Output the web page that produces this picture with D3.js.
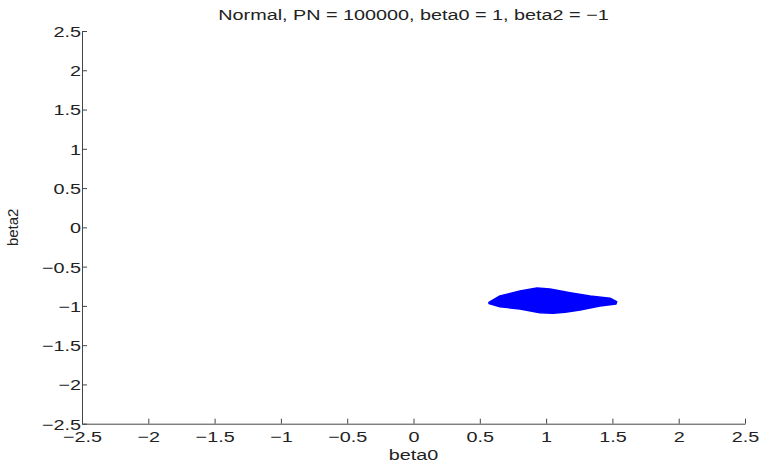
<!DOCTYPE html>
<html>
<head>
<meta charset="utf-8">
<script src="https://cdn.jsdelivr.net/npm/d3@7"></script>
<style>
  html, body { margin: 0; padding: 0; background: #fff; }
  svg { display: block; font-family: "Liberation Sans", Arial, Helvetica, sans-serif; }
</style>
</head>
<body>
<svg id="chart" width="760" height="466"></svg>
<script>
// Axis ticks
const xTicks = [-2.5, -2, -1.5, -1, -0.5, 0, 0.5, 1, 1.5, 2, 2.5];
const yTicks = [-2.5, -2, -1.5, -1, -0.5, 0, 0.5, 1, 1.5, 2, 2.5];

// Outline of the sampled (beta0, beta2) point cloud, traced clockwise
const cloudBeta0 = [0.569, 0.652, 0.803, 0.931, 1.029, 1.180, 1.331, 1.482, 1.532,
                    1.527, 1.406, 1.256, 1.143, 1.052, 0.954, 0.803, 0.652, 0.569];
const cloudBeta2 = [-0.954, -0.874, -0.810, -0.772, -0.785, -0.832, -0.874, -0.903, -0.947,
                    -0.976, -1.001, -1.052, -1.082, -1.094, -1.087, -1.040, -1.010, -0.970];

const titleText = "Normal, PN = 100000, beta0 = 1, beta2 = \u22121";

const svg = d3.select("#chart");
const margin = { left: 82, right: 15, top: 31, bottom: 42.3 };
const W = 760, H = 466;
const FS = 15;        // label font size
const STRETCH = 1.32; // wide glyph look of the horizontal labels

const x = d3.scaleLinear().domain([-2.5, 2.5]).range([margin.left, W - margin.right]);
const y = d3.scaleLinear().domain([-2.5, 2.5]).range([H - margin.bottom, margin.top]);

const fmt = d => String(d).replace("-", "\u2212");

// point cloud
const cloud = cloudBeta0.map((b, i) => [b, cloudBeta2[i]]);
svg.append("path")
  .datum(cloud)
  .attr("d", d3.line().x(d => x(d[0])).y(d => y(d[1])).curve(d3.curveLinearClosed))
  .attr("fill", "#0000ff")
  .attr("stroke", "#0000ff")
  .attr("stroke-width", 1.5)
  .attr("stroke-linejoin", "round");

// x axis
const xAxis = svg.append("g")
  .attr("transform", `translate(0,${y(-2.5)})`)
  .call(d3.axisBottom(x).tickValues(xTicks).tickSizeInner(-5).tickSizeOuter(0).tickFormat(fmt));
xAxis.select(".domain").attr("stroke", "#444");
xAxis.selectAll(".tick line").attr("stroke", "#444");
xAxis.selectAll(".tick text")
  .attr("x", null).attr("y", null).attr("dy", null)
  .attr("transform", `translate(0,18) scale(${STRETCH},1)`)
  .attr("font-size", FS).attr("fill", "#222")
  .attr("font-family", "Liberation Sans, Arial, sans-serif");

// y axis
const yAxis = svg.append("g")
  .attr("transform", `translate(${x(-2.5)},0)`)
  .call(d3.axisLeft(y).tickValues(yTicks).tickSizeInner(-5).tickSizeOuter(0).tickFormat(fmt));
yAxis.select(".domain").attr("stroke", "#444");
yAxis.selectAll(".tick line").attr("stroke", "#444");
yAxis.selectAll(".tick text")
  .attr("x", null).attr("dy", "0.36em")
  .attr("transform", `translate(-1,0) scale(${STRETCH},1)`)
  .attr("font-size", FS).attr("fill", "#222")
  .attr("font-family", "Liberation Sans, Arial, sans-serif");

// title and axis labels
const cx = (x(-2.5) + x(2.5)) / 2;
svg.append("text")
  .attr("transform", `translate(${cx},20) scale(${STRETCH},1)`)
  .attr("text-anchor", "middle").attr("font-size", FS).attr("fill", "#222")
  .text(titleText);

svg.append("text")
  .attr("transform", `translate(${cx},460) scale(${STRETCH},1)`)
  .attr("text-anchor", "middle").attr("font-size", FS).attr("fill", "#222")
  .text("beta0");

svg.append("text")
  .attr("transform", `translate(18,${y(0)}) rotate(-90)`)
  .attr("text-anchor", "middle").attr("font-size", FS).attr("fill", "#222")
  .text("beta2");
</script>
</body>
</html>
